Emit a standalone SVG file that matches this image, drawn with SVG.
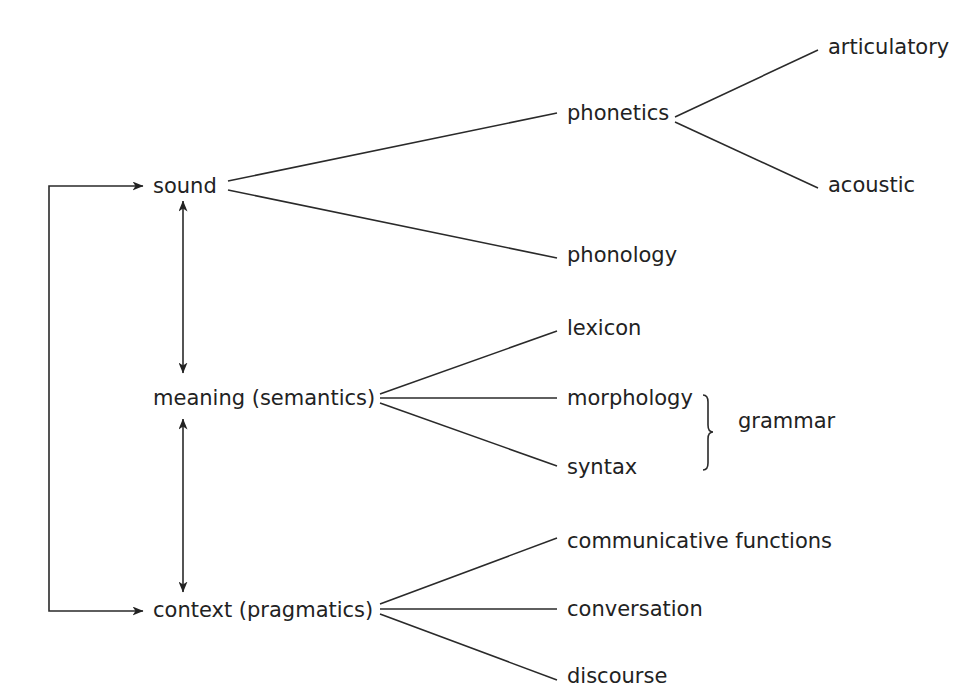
<svg xmlns="http://www.w3.org/2000/svg" width="957" height="689" viewBox="0 0 957 689">
<style>
text{font-family:"DejaVu Sans","Liberation Sans",sans-serif;font-size:21px;fill:#222}
.ln{stroke:#2a2a2a;stroke-width:1.6;fill:none}
</style>
<defs>
<marker id="ah" viewBox="0 0 11 9" refX="10.5" refY="4.5" markerWidth="11" markerHeight="9" markerUnits="userSpaceOnUse" orient="auto-start-reverse">
<path d="M0,0 L11,4.5 L0,9 L3,4.5 Z" fill="#222"/>
</marker>
</defs>
<rect width="957" height="689" fill="#fff"/>
<g id="connectors">
<polyline class="ln" points="143,186 49,186 49,611 143,611" marker-start="url(#ah)" marker-end="url(#ah)"/>
<line class="ln" x1="183" y1="201" x2="183" y2="373" marker-start="url(#ah)" marker-end="url(#ah)"/>
<line class="ln" x1="183" y1="419" x2="183" y2="592" marker-start="url(#ah)" marker-end="url(#ah)"/>
<line class="ln" x1="228" y1="181" x2="557" y2="113"/>
<line class="ln" x1="228" y1="190" x2="557" y2="258"/>
<line class="ln" x1="675" y1="117" x2="818" y2="50"/>
<line class="ln" x1="675" y1="122" x2="818" y2="188"/>
<line class="ln" x1="380" y1="394" x2="557" y2="331"/>
<line class="ln" x1="380" y1="398" x2="557" y2="398"/>
<line class="ln" x1="380" y1="403" x2="557" y2="466"/>
<line class="ln" x1="380" y1="604" x2="557" y2="538"/>
<line class="ln" x1="380" y1="609" x2="557" y2="609"/>
<line class="ln" x1="380" y1="614" x2="557" y2="680"/>
<path class="ln" d="M703,395 Q708,395 708,402 L708,425 Q708,432 713,432 Q708,432 708,439 L708,463 Q708,470 703,470"/>
</g>
<g id="sound"><text x="153" y="193">sound</text></g>
<g id="meaning"><text x="153" y="405">meaning (semantics)</text></g>
<g id="context"><text x="153" y="617">context (pragmatics)</text></g>
<g id="phonetics"><text x="567" y="120">phonetics</text></g>
<g id="articulatory"><text x="828" y="54">articulatory</text></g>
<g id="acoustic"><text x="828" y="192">acoustic</text></g>
<g id="phonology"><text x="567" y="262">phonology</text></g>
<g id="lexicon"><text x="567" y="335">lexicon</text></g>
<g id="morphology"><text x="567" y="405">morphology</text></g>
<g id="syntax"><text x="567" y="474">syntax</text></g>
<g id="grammar"><text x="738" y="428">grammar</text></g>
<g id="communicative"><text x="567" y="548">communicative functions</text></g>
<g id="conversation"><text x="567" y="616">conversation</text></g>
<g id="discourse"><text x="567" y="683">discourse</text></g>
</svg>
